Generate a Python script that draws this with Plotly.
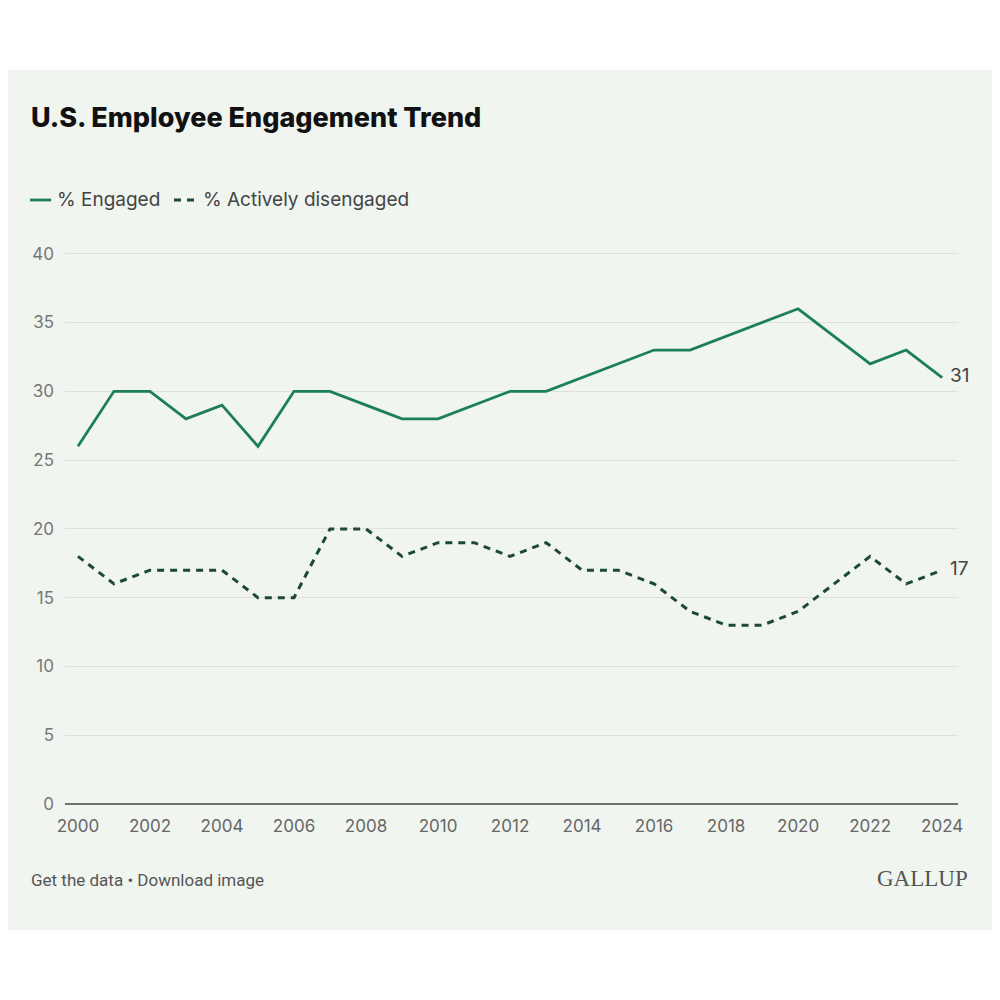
import plotly.graph_objects as go

years = list(range(2000, 2025))
engaged = [26, 30, 30, 28, 29, 26, 30, 30, 29, 28, 28, 29, 30, 30, 31, 32, 33, 33, 34, 35, 36, 34, 32, 33, 31]
disengaged = [18, 16, 17, 17, 17, 15, 15, 20, 20, 18, 19, 19, 18, 19, 17, 17, 16, 14, 13, 13, 14, 16, 18, 16, 17]
y_ticks = [0, 5, 10, 15, 20, 25, 30, 35, 40]
x_ticks = list(range(2000, 2025, 2))

# page body adds an 8px margin, so target positions are shifted back by it
OFF = 8
W, H = 1000, 1000
L, R, T, B = 65 - OFF, 50, 240 - OFF, 204
PW, PH = W - L - R, H - T - B

GREEN = "#1c7f56"
DARK = "#1b4a30"
PANEL = "#f0f5f0"
FONT = "Inter, Roboto, sans-serif"


def px(x):
    return (x - OFF - L) / PW


def py(y):
    return (H - B - (y - OFF)) / PH


fig = go.Figure()

fig.add_trace(go.Scatter(
    x=years, y=engaged, mode="lines", name="% Engaged",
    line=dict(color=GREEN, width=2.8), hoverinfo="skip",
))
fig.add_trace(go.Scatter(
    x=years, y=disengaged, mode="lines", name="% Actively disengaged",
    line=dict(color=DARK, width=3, dash="7px,6px"), hoverinfo="skip",
))

shapes = [
    # background panel
    dict(type="rect", xref="paper", yref="paper", x0=px(-20), x1=px(1020), y0=py(930), y1=py(70),
         fillcolor=PANEL, line=dict(width=0), layer="below"),
    # legend keys
    dict(type="line", xref="paper", yref="paper", x0=px(30), x1=px(51), y0=py(200), y1=py(200),
         line=dict(color=GREEN, width=2.8)),
    dict(type="line", xref="paper", yref="paper", x0=px(174), x1=px(196), y0=py(200), y1=py(200),
         line=dict(color=DARK, width=3, dash="7px,6px")),
]

annotations = [
    dict(text="U.S. Employee Engagement Trend", xref="paper", yref="paper",
         x=px(29), y=py(118), xanchor="left", yanchor="middle", showarrow=False,
         font=dict(family=FONT, size=27, color="#111111", weight=800)),
    dict(text="% Engaged", xref="paper", yref="paper", x=px(55), y=py(200),
         xanchor="left", yanchor="middle", showarrow=False,
         font=dict(family=FONT, size=19, color="#444444")),
    dict(text="% Actively disengaged", xref="paper", yref="paper", x=px(201), y=py(200),
         xanchor="left", yanchor="middle", showarrow=False,
         font=dict(family=FONT, size=19, color="#444444")),
    dict(text=str(engaged[-1]), x=years[-1], y=engaged[-1], xanchor="left", yanchor="middle",
         xshift=6, yshift=2, showarrow=False, font=dict(family=FONT, size=19, color="#444444")),
    dict(text=str(disengaged[-1]), x=years[-1], y=disengaged[-1], xanchor="left", yanchor="middle",
         xshift=6, yshift=2, showarrow=False, font=dict(family=FONT, size=19, color="#444444")),
    dict(text="Get the data \u2022 Download image", xref="paper", yref="paper", x=px(29), y=py(880),
         xanchor="left", yanchor="middle", showarrow=False,
         font=dict(family="Roboto, sans-serif", size=17, color="#555555")),
    dict(text="GALLUP", xref="paper", yref="paper", x=px(970), y=py(878),
         xanchor="right", yanchor="middle", showarrow=False,
         font=dict(family="Liberation Serif, serif", size=23, color="#555555")),
]

fig.update_layout(
    width=W, height=H,
    margin=dict(l=L, r=R, t=T, b=B),
    paper_bgcolor="white", plot_bgcolor=PANEL,
    showlegend=False,
    shapes=shapes, annotations=annotations,
    xaxis=dict(
        range=[1999.64, 2024.44], tickvals=x_ticks, showgrid=False, zeroline=False,
        showline=False, ticks="", ticklabelstandoff=10,
        tickfont=dict(family=FONT, size=17, color="#666666"), fixedrange=True,
    ),
    yaxis=dict(
        range=[0, 41], tickvals=y_ticks, showgrid=True, gridcolor="#dde0dd", gridwidth=1,
        zeroline=True, zerolinecolor="#707070", zerolinewidth=2,
        showline=False, ticks="", ticklabelstandoff=10,
        tickfont=dict(family=FONT, size=17, color="#777777"), fixedrange=True,
    ),
)

fig.write_html("out.html")
